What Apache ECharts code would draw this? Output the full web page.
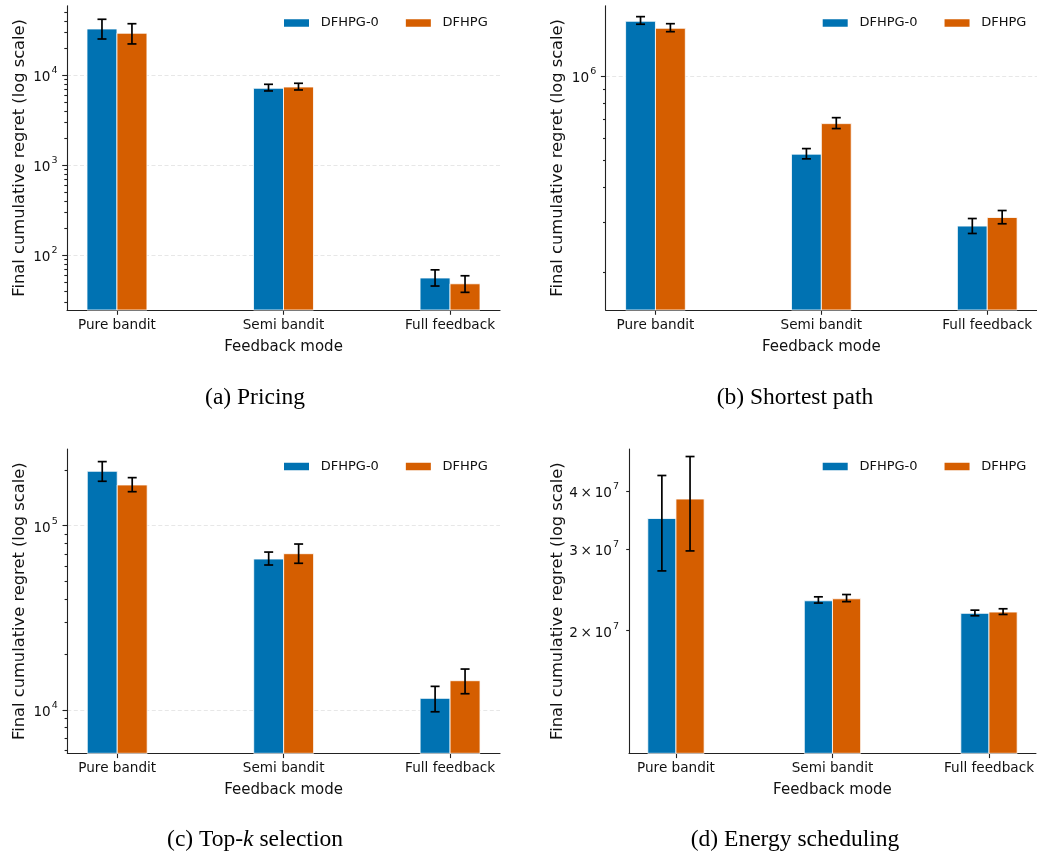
<!DOCTYPE html>
<html>
<head>
<meta charset="utf-8">
<script src="https://cdn.jsdelivr.net/npm/echarts@6/dist/echarts.min.js"></script>
<style>html,body{margin:0;padding:0;background:#fff}#chart{width:1037px;height:859px}</style>
</head>
<body>
<div id="chart"></div>
<script>
// ---------------- data ----------------
const categories = ['Pure bandit', 'Semi bandit', 'Full feedback'];
const seriesNames = ['DFHPG-0', 'DFHPG'];

// (a) Pricing
const pricingMean0 = [32700, 7170, 56];
const pricingLo0   = [25300, 6700, 45.6];
const pricingHi0   = [41900, 7940, 69];
const pricingMean1 = [29300, 7410, 48.3];
const pricingLo1   = [22300, 6870, 38.8];
const pricingHi1   = [37400, 8150, 59.3];

// (b) Shortest path
const pathMean0 = [1572000, 526500, 291300];
const pathLo0   = [1534000, 506600, 274100];
const pathHi0   = [1633000, 551200, 310000];
const pathMean1 = [1484000, 677000, 312600];
const pathLo1   = [1443000, 650000, 296900];
const pathHi1   = [1541000, 711000, 331100];

// (c) Top-k selection
const topkMean0 = [197500, 65900, 11530];
const topkLo0   = [174300, 61150, 9750];
const topkHi0   = [222900, 71900, 13400];
const topkMean1 = [166400, 70450, 14380];
const topkLo1   = [153000, 62480, 12220];
const topkHi1   = [182400, 79500, 16640];

// (d) Energy scheduling
const energyMean0 = [34870000, 23200000, 21800000];
const energyLo0   = [26900000, 22940000, 21540000];
const energyHi0   = [43150000, 23660000, 22150000];
const energyMean1 = [38400000, 23430000, 21940000];
const energyLo1   = [29700000, 23100000, 21680000];
const energyHi1   = [47400000, 23930000, 22300000];

// axis ranges and ticks
const pricingRange = [24.7, 59300];
const pricingMajor = [100, 1000, 10000];
const pricingMinor = [30,40,50,60,70,80,90,200,300,400,500,600,700,800,900,2000,3000,4000,5000,6000,7000,8000,9000,20000,30000,40000,50000];
const pathRange = [146000, 1787000];
const pathMajor = [1000000];
const pathMinor = [200000,300000,400000,500000,600000,700000,800000,900000];
const topkRange = [5800, 261000];
const topkMajor = [10000, 100000];
const topkMinor = [6000,7000,8000,9000,20000,30000,40000,50000,60000,70000,80000,90000,200000];
const energyRange = [10900000, 49200000];
const energyTicks = [20000000, 30000000, 40000000];

const captions = ['(a) Pricing', '(b) Shortest path', '(c) Top-{k|k} selection', '(d) Energy scheduling'];
const yAxisTitle = 'Final cumulative regret (log scale)';
const xAxisTitle = 'Feedback mode';

// ---------------- styling / layout ----------------
const FONT = 'DejaVu Sans';
const BLUE = '#0072B2', ORANGE = '#D55E00';
const AX = '#222222';
const TXT = '#111111';
const BW = 0.18, BOFF = 0.09;

const panels = [
  {grid:{left:67, top:5.7, width:433, height:304.3}, range:pricingRange, major:pricingMajor, minor:pricingMinor, fmt:'pow', gridLines:true, nameGap:39.5,
   d:[[pricingMean0,pricingLo0,pricingHi0],[pricingMean1,pricingLo1,pricingHi1]], legend:{left:284, top:15}, cap:{x:255, y:398}},
  {grid:{left:605.7, top:5.7, width:432.6, height:304.3}, range:pathRange, major:pathMajor, minor:pathMinor, fmt:'pow', gridLines:true, nameGap:39.5,
   d:[[pathMean0,pathLo0,pathHi0],[pathMean1,pathLo1,pathHi1]], legend:{left:822.7, top:15}, cap:{x:795, y:398}},
  {grid:{left:67.3, top:449, width:432.7, height:304.3}, range:topkRange, major:topkMajor, minor:topkMinor, fmt:'pow', gridLines:true, nameGap:39.5,
   d:[[topkMean0,topkLo0,topkHi0],[topkMean1,topkLo1,topkHi1]], legend:{left:284, top:458.5}, cap:{x:255, y:840}},
  {grid:{left:629, top:449, width:409.3, height:304.3}, range:energyRange, major:energyTicks, minor:[], fmt:'sci', gridLines:false, nameGap:63.5, majorLen:2.8,
   d:[[energyMean0,energyLo0,energyHi0],[energyMean1,energyLo1,energyHi1]], legend:{left:822.7, top:458.5}, cap:{x:795, y:840}}
];

function makeRender(offset) {
  return function (params, api) {
    const cs = params.coordSys;
    const x = api.value(0) + offset;
    const m = api.value(1), lo = api.value(2), hi = api.value(3);
    const tl = api.coord([x - BW / 2, m]);
    const br = api.coord([x + BW / 2, m]);
    const bottom = cs.y + cs.height;
    const cx = api.coord([x, m])[0];
    const pLo = api.coord([x, lo]), pHi = api.coord([x, hi]);
    const color = api.visual('color');
    const es = {stroke:'#000', lineWidth:1.7};
    return {type:'group', children:[
      {type:'rect', shape:{x:tl[0], y:tl[1], width:br[0]-tl[0], height:bottom-tl[1]}, style:{fill:color, stroke:'rgba(255,255,255,0.8)', lineWidth:1}},
      {type:'line', shape:{x1:cx, y1:pLo[1], x2:cx, y2:pHi[1]}, style:es},
      {type:'line', shape:{x1:cx-4.5, y1:pHi[1], x2:cx+4.5, y2:pHi[1]}, style:es},
      {type:'line', shape:{x1:cx-4.5, y1:pLo[1], x2:cx+4.5, y2:pLo[1]}, style:es}
    ]};
  };
}

const rich = {
  b: {fontFamily:FONT, fontSize:13.6, color:TXT, lineHeight:19, verticalAlign:'bottom'},
  s: {fontFamily:FONT, fontSize:9.5, color:TXT, lineHeight:10, verticalAlign:'top', padding:[0,0,0,1]}
};
function powFmt(v) { return '{b|10}{s|' + Math.round(Math.log10(v)) + '}'; }
function sciFmt(v) { return '{b|' + Math.round(v / 1e7) + '\u2009\u00d7\u200910}{s|7}'; }

const option = {
  animation:false,
  backgroundColor:'#fff',
  grid:[], xAxis:[], yAxis:[], series:[], legend:[], graphic:[]
};

const lineStyle = {color:AX, width:1.1};
panels.forEach((p, i) => {
  option.grid.push(Object.assign({containLabel:false}, p.grid));
  option.xAxis.push({
    type:'value', gridIndex:i, min:-0.3, max:2.3,
    axisLine:{show:true, onZero:false, lineStyle},
    axisTick:{show:true, length:4.8, customValues:[0,1,2], lineStyle},
    axisLabel:{customValues:[0,1,2], formatter:v => categories[Math.round(v)], margin:8.5, fontFamily:FONT, fontSize:13.6, color:TXT, lineHeight:14},
    splitLine:{show:false},
    name:xAxisTitle, nameLocation:'middle', nameGap:29.5,
    nameTextStyle:{fontFamily:FONT, fontSize:15, color:TXT}
  });
  option.yAxis.push({
    type:'log', logBase:10, gridIndex:i, position:'left', min:p.range[0], max:p.range[1],
    axisLine:{show:true, onZero:false, lineStyle},
    axisTick:{show:true, length:p.majorLen || 4.8, customValues:p.major, lineStyle},
    axisLabel:{customValues:p.major, margin:p.fmt === 'sci' ? 10 : 9.5, formatter:p.fmt === 'sci' ? sciFmt : powFmt, rich},
    splitLine:{show:p.gridLines, lineStyle:{type:[4,2.5], color:'#e4e4e4', width:0.9}},
    minorTick:{show:false},
    name:yAxisTitle, nameLocation:'middle', nameGap:p.nameGap,
    nameTextStyle:{fontFamily:FONT, fontSize:16.3, color:TXT}
  });
  option.yAxis.push({
    type:'log', logBase:10, gridIndex:i, position:'left', min:p.range[0], max:p.range[1],
    axisLine:{show:false, onZero:false},
    axisTick:{show:p.minor.length > 0, length:2.7, customValues:p.minor.length ? p.minor : [p.range[0]], lineStyle},
    axisLabel:{show:false},
    splitLine:{show:false}
  });
  [0, 1].forEach(k => {
    const [mean, lo, hi] = p.d[k];
    option.series.push({
      type:'custom', name:seriesNames[k], xAxisIndex:i, yAxisIndex:2 * i,
      itemStyle:{color:k === 0 ? BLUE : ORANGE},
      renderItem:makeRender(k === 0 ? -BOFF : BOFF),
      encode:{x:0, y:[1, 2, 3]},
      data:categories.map((c, j) => [j, mean[j], lo[j], hi[j]])
    });
  });
  option.legend.push({
    left:p.legend.left, top:p.legend.top, orient:'horizontal', icon:'rect',
    itemWidth:25, itemHeight:7.5, itemGap:27, padding:0, selectedMode:false,
    textStyle:{fontFamily:FONT, fontSize:13, color:TXT, padding:[0,0,0,6.7], lineHeight:16},
    data:[{name:seriesNames[0], itemStyle:{color:BLUE}}, {name:seriesNames[1], itemStyle:{color:ORANGE}}]
  });
  option.graphic.push({
    type:'text', x:p.cap.x, y:p.cap.y,
    style:{text:captions[i], font:'23.5px "Liberation Serif"', fill:'#000',
      align:'center', verticalAlign:'middle', textAlign:'center', textVerticalAlign:'middle',
      rich:{k:{fontStyle:'italic', fontFamily:'Liberation Serif', fontSize:23.5}}}
  });
});

const chart = echarts.init(document.getElementById('chart'), null, {renderer:'canvas'});
chart.setOption(option);
</script>
</body>
</html>
